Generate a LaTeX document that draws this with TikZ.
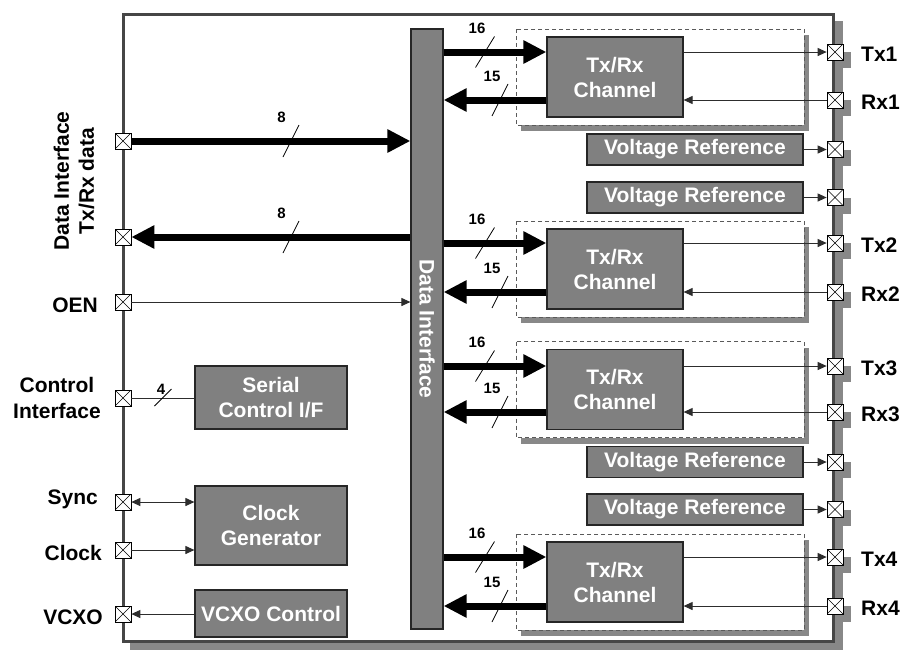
\documentclass[tikz,border=0pt]{standalone}
\usepackage{fontspec}
\setmainfont{Liberation Sans}
\usetikzlibrary{arrows.meta,calc}
\definecolor{boxgray}{RGB}{128,128,128}
\definecolor{shadowgray}{RGB}{136,136,136}
\definecolor{framegray}{RGB}{70,70,70}
\definecolor{wire}{RGB}{45,45,45}
\definecolor{dashgray}{RGB}{90,90,90}

\begin{document}
\begin{tikzpicture}[x=1pt,y=-1pt,
  lbl/.style={font=\fontsize{21}{25}\selectfont\bfseries, inner sep=0pt},
  num/.style={font=\fontsize{15}{18}\selectfont\bfseries, inner sep=0pt},
  block/.style={draw=black!85, line width=1.2pt, fill=boxgray, text=white,
    font=\fontsize{21}{25}\selectfont\bfseries, align=center, inner sep=0pt},
  pin/.style={draw=black, line width=0.7pt, fill=white, minimum size=16pt, inner sep=0pt,
    path picture={\draw[line width=0.6pt]
      (path picture bounding box.north west) -- (path picture bounding box.south east)
      (path picture bounding box.north east) -- (path picture bounding box.south west);}},
  bus/.style={line width=7pt, -{Triangle[length=23pt,width=22pt]}},
  wireline/.style={draw=wire, line width=1pt},
  wirearrow/.style={wireline, -{Triangle[length=9pt,width=8pt]}},
  wiretwo/.style={wireline, {Triangle[length=9pt,width=8pt]}-{Triangle[length=9pt,width=8pt]}},
  slashmark/.style={line width=0.8pt},
  chanframe/.style={draw=dashgray, line width=0.8pt, dash pattern=on 4pt off 3pt, fill=white},
]
\useasboundingbox (0,0) rectangle (901,651);

% drop shadows of the package outline and of the right-hand pins
\fill[shadowgray] (129.5,20.5) rectangle (842.5,650);
\foreach \y in {52,100,149.5,197.5,243,292,366,412,462,509.5,557,606}
  \fill[shadowgray] (835,\y) rectangle +(16,16);

% package outline
\draw[framegray, line width=3pt, fill=white] (123,14) rectangle (833,641);

% central data interface bar
\node[draw=black!85, line width=1.2pt, fill=boxgray, minimum width=32pt,
      minimum height=600pt, inner sep=0pt] (bar) at (427,329) {};
\node[lbl, text=white, rotate=-90] at (bar.center) {Data Interface};

% Tx/Rx channels
\foreach \n/\c/\tx/\rx in {1/77/52/100, 2/269/243/292, 3/389.5/366/412, 4/582/557/606}{
  \fill[shadowgray] (521,{\c-42}) rectangle (809,{\c+54});
  \draw[chanframe] (516,{\c-48}) rectangle (804,{\c+48});
  \node[block, minimum width=136pt, minimum height=80pt] (ch\n) at (615,\c) {Tx/Rx\\Channel};
  \node[pin] (tx\n) at (835,\tx) {};
  \node[pin] (rx\n) at (835,\rx) {};
  \node[lbl, anchor=base west] at (861,{\tx+9.5}) {Tx\n};
  \node[lbl, anchor=base west] at (861,{\rx+9.5}) {Rx\n};
  \draw[bus] (bar.east |- tx\n) -- (ch\n.west |- tx\n);
  \draw[bus] (ch\n.west |- rx\n) -- (bar.east |- rx\n);
  \draw[wirearrow] (ch\n.east |- tx\n) -- (tx\n.west);
  \draw[wirearrow] (rx\n.west) -- (ch\n.east |- rx\n);
  \draw[slashmark] (485,\tx) +(-9.5,15.5) -- +(9.5,-15.5);
  \node[num] at (477,{\tx-24}) {16};
  \draw[slashmark] (500,\rx) +(-8,16) -- +(8,-16);
  \node[num] at (492,{\rx-23.5}) {15};
}

% voltage references
\foreach \n/\y in {1/149.5, 2/197.5, 3/462, 4/509.5}{
  \node[block, minimum width=216pt, minimum height=31pt] (vref\n) at (695,\y) {Voltage Reference};
  \node[pin] (vp\n) at (835,\y) {};
  \draw[wirearrow] (vref\n.east) -- (vp\n.west);
}

% left-hand pins
\node[pin] (din)  at (123,141) {};
\node[pin] (dout) at (123,237) {};
\node[pin] (oen)  at (123,302) {};
\node[pin] (ctl)  at (123,398) {};
\node[pin] (sync) at (123,502) {};
\node[pin] (clk)  at (123,550) {};
\node[pin] (vcx)  at (123,614) {};

% left-hand blocks
\node[block, minimum width=152pt, minimum height=63pt] (ser) at (271,397.5) {Serial\\Control I/F};
\node[block, minimum width=152pt, minimum height=79pt] (cg)  at (271,525.5) {Clock\\Generator};
\node[block, minimum width=152pt, minimum height=47pt] (vc)  at (271,613.5) {VCXO Control};

% data buses to and from the interface
\draw[bus] (din.east) -- (bar.west |- din);
\draw[bus] (bar.west |- dout) -- (dout.east);
\draw[slashmark] (291,141) +(-8,16) -- +(8,-16);
\node[num] at (281.5,117) {8};
\draw[slashmark] (291,237) +(-8,16) -- +(8,-16);
\node[num] at (281.5,213) {8};

% control signals
\draw[wirearrow] (oen.east) -- (bar.west |- oen);
\draw[wireline] (ctl.east) -- (ser.west |- ctl);
\draw[slashmark] (163,397.5) +(-8.5,8.5) -- +(8.5,-8.5);
\node[num] at (161,389.5) {4};
\draw[wiretwo] (sync.east) -- (cg.west |- sync);
\draw[wirearrow] (clk.east) -- (cg.west |- clk);
\draw[wirearrow] (vc.west |- vcx) -- (vcx.east);

% pin names
\node[lbl, rotate=90, align=center] at (74,181) {Data Interface\\Tx/Rx data};
\node[lbl, anchor=base east] at (98,312) {OEN};
\node[lbl, align=center, font=\fontsize{21}{26}\selectfont\bfseries] at (57,397.7) {Control\\Interface};
\node[lbl, anchor=base east] at (98,504) {Sync};
\node[lbl, anchor=base east] at (102,560) {Clock};
\node[lbl, anchor=base east] at (103,624) {VCXO};
\end{tikzpicture}
\end{document}
